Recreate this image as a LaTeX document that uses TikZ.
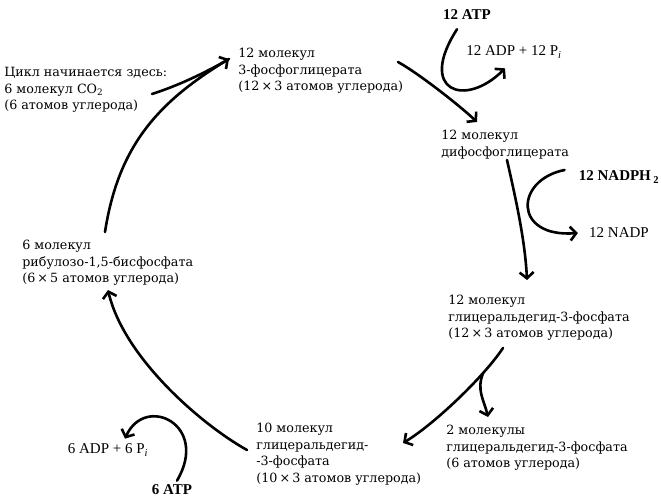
\documentclass[tikz,border=0pt]{standalone}
\usepackage{fontspec}
\setmainfont{DejaVu Serif}
\newfontfamily\cofont{Liberation Serif}
\usetikzlibrary{arrows.meta}

\begin{document}
\begin{tikzpicture}[x=1pt,y=-1pt,line width=2.6pt,line cap=round,
  >={Straight Barb[length=6pt,width=14pt]},
  mol/.style={anchor=north west,inner sep=0pt,align=left,font=\fontsize{12.7}{16.5}\selectfont},
  cof/.style={inner sep=0pt,font=\cofont\fontsize{15}{17}\selectfont},
  cofb/.style={inner sep=0pt,font=\cofont\bfseries\fontsize{15}{17}\selectfont}]
\useasboundingbox (0,0) rectangle (661,502);

\node[mol] (pga) at (237,47) {12 молекул\\3-фосфоглицерата\\(12\,×\,3 атомов углерода)};
\node[mol] (dpg) at (440,129) {12 молекул\\дифосфоглицерата};
\node[mol] (gap) at (447,294) {12 молекул\\глицеральдегид-3-фосфата\\(12\,×\,3 атомов углерода)};
\node[mol] (gapout) at (445,424) {2 молекулы\\глицеральдегид-3-фосфата\\(6 атомов углерода)};
\node[mol] (gapten) at (255,422) {10 молекул\\глицеральдегид-\\-3-фосфата\\(10\,×\,3 атомов углерода)};
\node[mol] (rubp) at (21,239) {6 молекул\\рибулозо-1,5-бисфосфата\\(6\,×\,5 атомов углерода)};
\node[mol] (start) at (3,66) {Цикл начинается здесь:\\6 молекул CO\textsubscript{2}\\(6 атомов углерода)};

\node[cofb] (atpA) at (467,15) {12 ATP};
\node[cof] (adpA) at (514,52) {12 ADP + 12 P\textsubscript{\itshape i}};
\node[cofb] (nadph) at (619,177) {12 NADPH\,\textsubscript{2}};
\node[cof] (nadp) at (619,233) {12 NADP};
\node[cof] (adpB) at (108,450) {6 ADP + 6 P\textsubscript{\itshape i}};
\node[cofb] (atpB) at (172,490) {6 ATP};

% cycle
\draw[->] ([xshift=84pt,yshift=7pt]rubp.north west) .. controls +(13,-84) and +(-73,44) .. ([xshift=-8pt,yshift=-12pt]pga.north west);
\draw ([xshift=149pt,yshift=-28pt]start.north west) .. controls +(25,-8) and +(-26,15) .. ([xshift=-8pt,yshift=-12pt]pga.north west);
\draw[->] ([xshift=161pt,yshift=-15pt]pga.north west) .. controls +(20,11) and +(-18,-17) .. ([xshift=37pt,yshift=7pt]dpg.north west);
\draw[->] ([xshift=67pt,yshift=-31pt]dpg.north west) .. controls +(9,40) and +(-2,-40) .. ([xshift=80pt,yshift=14pt]gap.north west);
\draw[->] ([xshift=56pt,yshift=-54pt]gap.north west) .. controls +(-20,30) and +(30,-18) .. ([xshift=148pt,yshift=-21pt]gapten.north west) coordinate[pos=0.25] (split);
\draw[->] ([xshift=-8pt,yshift=-28pt]gapten.north west) .. controls +(-45,-25) and +(16,68) .. ([xshift=87pt,yshift=-51pt]rubp.north west);

% side reactions
\draw[->] ([xshift=-10pt,yshift=-8pt]atpA.south) .. controls +(-40,62) and +(-40,40) .. ([xshift=-9pt,yshift=-9pt]adpA.south);
\draw[->] ([xshift=-13pt,yshift=7pt]nadph.west) .. controls +(-50,10) and +(-65,5) .. ([xshift=-10pt]nadp.west);
\draw[->] (split) .. controls +(-7,17) and +(-4,-17) .. ([xshift=43pt,yshift=7pt]gapout.north west);
\draw[->] ([xshift=5pt,yshift=3pt]atpB.north) .. controls +(33,-56) and +(20,-45) .. ([xshift=17pt,yshift=4pt]adpB.north);

\end{tikzpicture}
\end{document}
